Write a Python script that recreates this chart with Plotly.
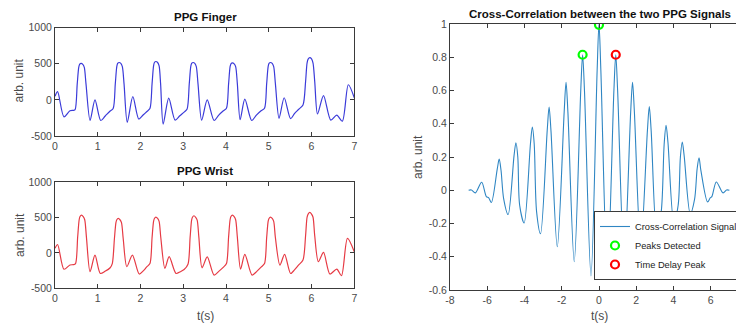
import plotly.graph_objects as go

# ---------------- data ----------------
finger_t = [0.00, 0.06, 0.21, 0.35, 0.43,
            0.47, 0.52, 0.555, 0.575, 0.61, 0.65, 0.685, 0.725, 0.82, 0.935, 1.07,
            1.17, 1.29, 1.36, 1.41, 1.445, 1.465, 1.50, 1.54, 1.575, 1.615, 1.69, 1.82, 1.96,
            2.06, 2.15, 2.22, 2.27, 2.305, 2.325, 2.36, 2.40, 2.435, 2.47, 2.53, 2.66, 2.81,
            2.92, 3.02, 3.09, 3.14, 3.175, 3.195, 3.23, 3.27, 3.305, 3.345, 3.43, 3.56, 3.72,
            3.83, 3.94, 4.01, 4.06, 4.095, 4.115, 4.15, 4.19, 4.225, 4.265, 4.33, 4.44, 4.60,
            4.71, 4.82, 4.90, 4.95, 4.985, 5.005, 5.04, 5.08, 5.115, 5.155, 5.24, 5.36, 5.51,
            5.60, 5.70, 5.80, 5.86, 5.895, 5.92, 5.96, 6.00, 6.035, 6.075, 6.14, 6.28, 6.45,
            6.59, 6.72, 6.86, 7.00]
finger_v = [50, 115, -235, -150, -145,
            -135, 222, 450, 492, 505, 493, 450, 222, -285, 0, -285,
            -226, -153, -120, 222, 460, 505, 518, 505, 460, 222, -310, 45, -265,
            -210, -160, -120, 222, 470, 518, 532, 518, 470, 222, -335, 25, -280,
            -220, -170, -125, 222, 460, 505, 518, 505, 460, 222, -280, 0, -285,
            -210, -150, -115, 222, 460, 500, 514, 500, 460, 222, -275, 10, -285,
            -210, -150, -115, 222, 460, 505, 518, 505, 460, 222, -255, 30, -260,
            -190, -130, -70, 250, 510, 565, 585, 568, 510, 250, -195, 60, -280,
            -210, -295, 210, 30]

wrist_t = [0.00, 0.06, 0.21, 0.35, 0.43,
           0.48, 0.53, 0.565, 0.585, 0.62, 0.66, 0.695, 0.735, 0.82, 0.935, 1.06,
           1.17, 1.29, 1.34, 1.39, 1.425, 1.445, 1.48, 1.52, 1.555, 1.595, 1.68, 1.81, 1.97,
           2.07, 2.14, 2.22, 2.27, 2.305, 2.325, 2.36, 2.40, 2.435, 2.475, 2.57, 2.67, 2.83,
           2.93, 3.02, 3.11, 3.16, 3.195, 3.215, 3.25, 3.29, 3.325, 3.365, 3.44, 3.56, 3.72,
           3.83, 3.94, 4.01, 4.06, 4.095, 4.115, 4.15, 4.19, 4.225, 4.265, 4.34, 4.44, 4.61,
           4.72, 4.82, 4.90, 4.95, 4.985, 5.005, 5.04, 5.08, 5.115, 5.155, 5.26, 5.37, 5.51,
           5.60, 5.70, 5.80, 5.86, 5.895, 5.92, 5.96, 6.00, 6.035, 6.075, 6.16, 6.28, 6.43,
           6.59, 6.70, 6.84, 7.00]
wrist_v = [65, 120, -230, -170, -165,
           -150, 225, 470, 515, 536, 515, 470, 225, -265, -30, -290,
           -260, -209, -150, 205, 430, 470, 489, 470, 430, 205, -195, -30, -298,
           -250, -200, -150, 215, 447, 488, 508, 488, 447, 215, -218, -53, -290,
           -265, -235, -160, 220, 465, 505, 527, 505, 465, 220, -210, -55, -313,
           -260, -200, -150, 225, 470, 515, 536, 515, 470, 225, -228, -20, -313,
           -260, -200, -150, 215, 447, 488, 508, 488, 447, 215, -171, -20, -290,
           -240, -170, -100, 240, 505, 550, 574, 550, 505, 240, -124, 8, -298,
           -228, -322, 206, 17]

xcorr_t = [-7.00, -6.85, -6.64, -6.30, -6.05, -5.92, -5.78, -5.46, -5.36, -5.26, -5.12, -4.88,
           -4.56, -4.46, -4.36, -4.26, -4.02, -3.68, -3.58, -3.48, -3.35, -3.14,
           -2.78, -2.68, -2.58, -2.24, -1.87, -1.77, -1.67, -1.33, -0.98, -0.88, -0.78, -0.43,
           -0.10, 0.00, 0.10, 0.45, 0.80, 0.90, 1.00, 1.35, 1.70, 1.80, 1.90, 2.24,
           2.60, 2.70, 2.80, 3.10, 3.34, 3.50, 3.60, 3.70, 4.02, 4.25, 4.37, 4.47, 4.57, 4.90,
           5.13, 5.27, 5.37, 5.47, 5.83, 5.97, 6.06, 6.30, 6.66, 6.85, 7.00]
xcorr_v = [0.000, 0.002, -0.016, 0.048, -0.038, -0.046, -0.074, 0.13, 0.187, 0.12, -0.05, -0.146,
           0.21, 0.286, 0.20, -0.09, -0.197, 0.28, 0.38, 0.28, -0.13, -0.262,
           0.36, 0.50, 0.36, -0.34, 0.47, 0.65, 0.47, -0.43, 0.60, 0.815, 0.60, -0.515,
           0.72, 1.00, 0.72, -0.50, 0.60, 0.815, 0.60, -0.43, 0.47, 0.65, 0.47, -0.34,
           0.36, 0.503, 0.36, -0.263, -0.13, 0.28, 0.39, 0.29, -0.197, -0.09, 0.20, 0.29, 0.21, -0.142,
           -0.055, 0.13, 0.195, 0.12, -0.07, -0.046, -0.038, 0.05, -0.016, 0.002, 0.000]

peaks_t = [-0.88, 0.00]
peaks_v = [0.815, 0.995]
delay_t = [0.90]
delay_v = [0.815]

left_xticks = [0, 1, 2, 3, 4, 5, 6, 7]
ppg_yticks = [-500, 0, 500, 1000]
ppg_yticktext = ["-500", "0", "500", "1000"]
xc_xticks = [-8, -6, -4, -2, 0, 2, 4, 6]
xc_xticktext = ["-8", "-6", "-4", "-2", "0", "2", "4", "6"]
xc_yticks = [-0.6, -0.4, -0.2, 0, 0.2, 0.4, 0.6, 0.8, 1]
xc_yticktext = ["-0.6", "-0.4", "-0.2", "0", "0.2", "0.4", "0.6", "0.8", "1"]

# ---------------- figure ----------------
# the page body has an 8px margin, so the figure is sized to fill the rest of the window
OFF = 8
W, H = 744 - OFF, 325 - OFF
FONT = "Liberation Sans, Arial, Helvetica, sans-serif"
AX = "#3a3a3a"
TK = "#4a4a4a"

def fx(x):  # window px -> paper fraction
    return (x - OFF) / W

def fy(y):
    return 1 - (y - OFF) / H

def px_x(a, b):
    return [max(fx(a), 0), min(fx(b), 1)]

def px_y(top, bottom):
    return [fy(bottom), fy(top)]

fig = go.Figure()
fig.add_trace(go.Scatter(x=finger_t, y=finger_v, mode="lines", line=dict(color="#3b3bd9", width=1.2, shape="spline", smoothing=0.8),
                         xaxis="x", yaxis="y", showlegend=False))
fig.add_trace(go.Scatter(x=wrist_t, y=wrist_v, mode="lines", line=dict(color="#e63a44", width=1.2, shape="spline", smoothing=0.8),
                         xaxis="x2", yaxis="y2", showlegend=False))
fig.add_trace(go.Scatter(x=xcorr_t, y=xcorr_v, mode="lines", name="Cross-Correlation Signal",
                         line=dict(color="#2f86c3", width=1.1, shape="spline", smoothing=0.9),
                         xaxis="x3", yaxis="y3"))
fig.add_trace(go.Scatter(x=peaks_t, y=peaks_v, mode="markers", name="Peaks Detected",
                         marker=dict(symbol="circle-open", size=8, color="#00ff00", line=dict(width=2.2, color="#00ff00")),
                         xaxis="x3", yaxis="y3"))
fig.add_trace(go.Scatter(x=delay_t, y=delay_v, mode="markers", name="Time Delay Peak",
                         marker=dict(symbol="circle-open", size=8, color="#ff0000", line=dict(width=2.2, color="#ff0000")),
                         xaxis="x3", yaxis="y3"))

common = dict(showgrid=False, zeroline=False, showline=True, mirror="ticks", linecolor=AX, linewidth=1,
              ticks="inside", ticklen=4, tickcolor=AX, tickfont=dict(family=FONT, size=10.5, color=TK))

fig.update_layout(
    width=W, height=H, margin=dict(l=0, r=0, t=0, b=0, autoexpand=False),
    paper_bgcolor="white", plot_bgcolor="white",
    font=dict(family=FONT, color=TK),
    xaxis=dict(domain=px_x(55, 354.3), range=[0, 7], tickvals=left_xticks, anchor="y", **common),
    yaxis=dict(domain=px_y(27.7, 136), range=[-500, 1000], tickvals=ppg_yticks, ticktext=ppg_yticktext, anchor="x", **common),
    xaxis2=dict(domain=px_x(55, 354.3), range=[0, 7], tickvals=left_xticks, anchor="y2", **common),
    yaxis2=dict(domain=px_y(182.3, 288.3), range=[-500, 1000], tickvals=ppg_yticks, ticktext=ppg_yticktext, anchor="x2", **common),
    xaxis3=dict(domain=px_x(450, 744), range=[-8, 7.785], tickvals=xc_xticks, ticktext=xc_xticktext, anchor="y3", **common),
    yaxis3=dict(domain=px_y(24, 290), range=[-0.6, 1.0], tickvals=xc_yticks, ticktext=xc_yticktext, anchor="x3", **common),
    legend=dict(x=fx(594), y=fy(280), xanchor="left", yanchor="bottom", itemwidth=30,
                bgcolor="white", bordercolor=AX, borderwidth=1, tracegroupgap=0,
                font=dict(family=FONT, size=9.3, color="#222222")),
)

ann = [
    dict(text="<b>PPG Finger</b>", x=205, y=17, size=11.5, color="#111111", angle=0),
    dict(text="<b>PPG Wrist</b>", x=205, y=171, size=11.5, color="#111111", angle=0),
    dict(text="<b>Cross-Correlation between the two PPG Signals</b>", x=599.5, y=14, size=11.5, color="#111111", angle=0),
    dict(text="arb. unit", x=18.5, y=81, size=12, color=TK, angle=-90),
    dict(text="arb. unit", x=20, y=235, size=12, color=TK, angle=-90),
    dict(text="arb. unit", x=418, y=157, size=12, color=TK, angle=-90),
    dict(text="t(s)", x=205, y=315.5, size=12, color=TK, angle=0),
    dict(text="t(s)", x=599, y=315.5, size=12, color=TK, angle=0),
]
for a in ann:
    fig.add_annotation(text=a["text"], x=fx(a["x"]), y=fy(a["y"]), xref="paper", yref="paper",
                       xanchor="center", yanchor="middle", showarrow=False, textangle=a["angle"],
                       font=dict(family=FONT, size=a["size"], color=a["color"]))

fig.write_html("out.html")
